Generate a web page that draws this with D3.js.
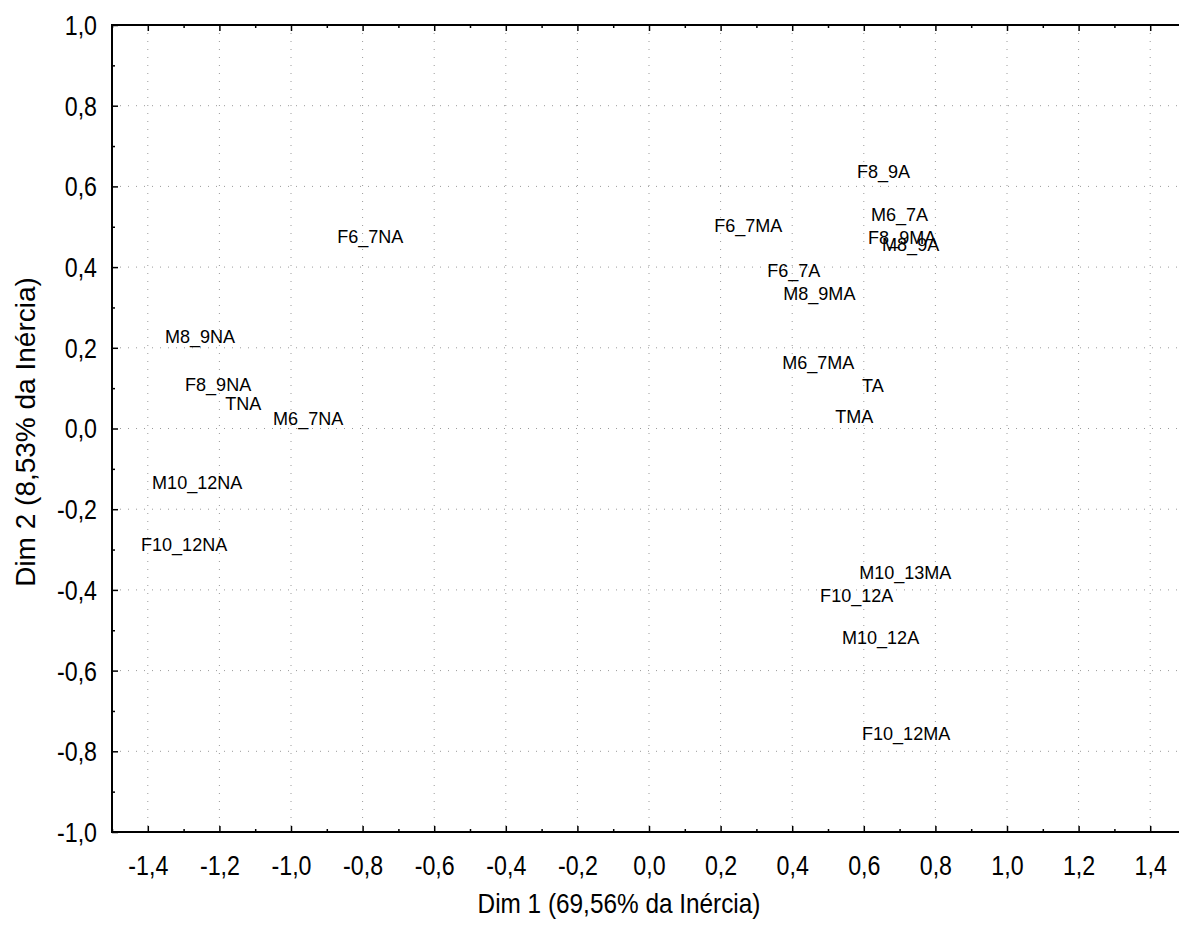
<!DOCTYPE html>
<meta charset="utf-8">
<style>
  body { margin: 0; background: #fff; }
  text { font-family: "Liberation Sans", Arial, sans-serif; fill: #000; }
  .grid line { stroke: #9a9a9a; stroke-width: 1; stroke-dasharray: 1,7; }
  .axis path { display: none; }
  .axis line { stroke: #000; stroke-width: 1.5; }
</style>
<body>
<script src="https://d3js.org/d3.v7.min.js"></script>
<script>
// point labels and coordinates (Dim 1, Dim 2)
var labels = ["F8_9A", "M6_7A", "F8_9MA", "M8_9A", "F6_7MA", "F6_7A", "M8_9MA", "F6_7NA",
              "M6_7MA", "TA", "TMA", "M8_9NA", "F8_9NA", "TNA", "M6_7NA", "M10_12NA",
              "F10_12NA", "M10_13MA", "F10_12A", "M10_12A", "F10_12MA"];
var dim1 = [0.581, 0.620, 0.612, 0.651, 0.182, 0.330, 0.375, -0.871,
            0.372, 0.595, 0.520, -1.352, -1.296, -1.184, -1.050, -1.388,
            -1.419, 0.587, 0.478, 0.539, 0.595];
var dim2 = [0.638, 0.532, 0.475, 0.457, 0.504, 0.393, 0.336, 0.477,
            0.165, 0.108, 0.031, 0.229, 0.110, 0.063, 0.024, -0.133,
            -0.286, -0.356, -0.413, -0.517, -0.755];

var xTicks = [-1.4, -1.2, -1.0, -0.8, -0.6, -0.4, -0.2, 0.0, 0.2, 0.4, 0.6, 0.8, 1.0, 1.2, 1.4];
var yTicks = [-1.0, -0.8, -0.6, -0.4, -0.2, 0.0, 0.2, 0.4, 0.6, 0.8, 1.0];
var xMinor = [-1.5, -1.3, -1.1, -0.9, -0.7, -0.5, -0.3, -0.1, 0.1, 0.3, 0.5, 0.7, 0.9, 1.1, 1.3, 1.5];
var yMinor = [-0.9, -0.7, -0.5, -0.3, -0.1, 0.1, 0.3, 0.5, 0.7, 0.9];
var xTitle = "Dim 1 (69,56% da Inércia)";
var yTitle = "Dim 2 (8,53% da Inércia)";

var width = 1179, height = 934;
var pLeft = 112, pRight = 1186, pTop = 25, pBottom = 832;

var x = d3.scaleLinear().domain([-1.5, 1.5]).range([pLeft, pRight]);
var y = d3.scaleLinear().domain([-1, 1]).range([pBottom, pTop]);

var fmt = function(d) { return d3.format(".1f")(d).replace(".", ",").replace("\u2212", "-"); };

var svg = d3.select("body").append("svg")
    .attr("width", width)
    .attr("height", height);

// dotted grid
var grid = svg.append("g").attr("class", "grid");
grid.selectAll(".gx")
    .data(xTicks)
    .enter().append("line")
      .attr("x1", function(d) { return x(d); })
      .attr("x2", function(d) { return x(d); })
      .attr("y1", pTop)
      .attr("y2", pBottom);
grid.selectAll(".gy")
    .data(yTicks.filter(function(d) { return Math.abs(d) < 1; }))
    .enter().append("line")
      .attr("x1", pLeft)
      .attr("x2", pRight)
      .attr("y1", function(d) { return y(d); })
      .attr("y2", function(d) { return y(d); });

// ticks on all sides, pointing inwards
var xb = svg.append("g").attr("class", "axis")
    .attr("transform", "translate(0," + pBottom + ")")
    .call(d3.axisBottom(x).tickValues(xTicks).tickSize(-6).tickFormat(fmt));
xb.selectAll("text")
    .attr("y", 43)
    .attr("dy", null)
    .attr("transform", "scale(0.86,1)")
    .style("font-size", "27px");
svg.append("g").attr("class", "axis")
    .attr("transform", "translate(0," + pBottom + ")")
    .call(d3.axisBottom(x).tickValues(xMinor).tickSize(-3).tickFormat(""));
svg.append("g").attr("class", "axis")
    .attr("transform", "translate(0," + pTop + ")")
    .call(d3.axisTop(x).tickValues(xTicks).tickSize(-6).tickFormat(""));
svg.append("g").attr("class", "axis")
    .attr("transform", "translate(0," + pTop + ")")
    .call(d3.axisTop(x).tickValues(xMinor).tickSize(-3).tickFormat(""));

var yl = svg.append("g").attr("class", "axis")
    .attr("transform", "translate(" + pLeft + ",0)")
    .call(d3.axisLeft(y).tickValues(yTicks).tickSize(-6).tickFormat(fmt));
yl.selectAll("text")
    .attr("x", -15 / 0.86)
    .attr("dy", "0.35em")
    .attr("transform", "scale(0.86,1)")
    .style("font-size", "27px");
svg.append("g").attr("class", "axis")
    .attr("transform", "translate(" + pLeft + ",0)")
    .call(d3.axisLeft(y).tickValues(yMinor).tickSize(-3).tickFormat(""));

// frame
svg.append("rect")
    .attr("x", pLeft)
    .attr("y", pTop)
    .attr("width", pRight - pLeft)
    .attr("height", pBottom - pTop)
    .attr("fill", "none")
    .attr("stroke", "#000")
    .attr("stroke-width", 2);

// point labels
var pts = labels.map(function(d, i) { return {name: d, a: dim1[i], b: dim2[i]}; });
svg.append("g").selectAll("text")
    .data(pts)
    .enter().append("text")
      .attr("transform", function(d) { return "translate(" + x(d.a) + "," + y(d.b) + ") scale(0.95,1)"; })
      .attr("dy", "0.35em")
      .style("font-size", "19px")
      .text(function(d) { return d.name; });

// axis titles
svg.append("text")
    .attr("transform", "translate(619,913) scale(0.87,1)")
    .attr("text-anchor", "middle")
    .style("font-size", "28px")
    .text(xTitle);
svg.append("text")
    .attr("transform", "translate(35,432) rotate(-90)")
    .attr("text-anchor", "middle")
    .style("font-size", "28px")
    .text(yTitle);
</script>
</body>
